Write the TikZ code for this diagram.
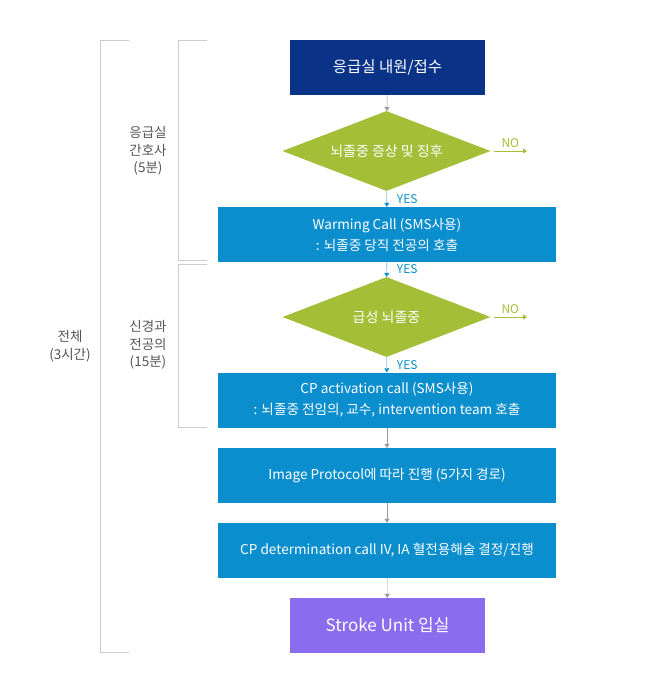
\documentclass[tikz,border=0pt]{standalone}
\usepackage{fontspec}
\setmainfont{Noto Sans CJK KR}
\usetikzlibrary{shapes.geometric,arrows.meta}
\definecolor{navybox}{HTML}{0A3286}
\definecolor{bluebox}{HTML}{0A8ECE}
\definecolor{greenbox}{HTML}{A4BE37}
\definecolor{purplebox}{HTML}{8A6CEE}
\definecolor{linegray}{HTML}{CCCCCC}
\definecolor{arrowgray}{HTML}{999999}
\definecolor{labelgray}{HTML}{555555}
\begin{document}
\begin{tikzpicture}[
		x=1pt, y=-1pt,
		every node/.style={inner sep=0pt, align=center},
		box/.style={rectangle, fill=bluebox, text=white, minimum width=338pt, minimum height=55pt, font=\fontsize{13.6}{21}\selectfont},
		endbox/.style={rectangle, text=white, minimum width=195pt, minimum height=55pt},
		decision/.style={diamond, aspect=2.6, fill=greenbox, text=white, minimum width=208pt, minimum height=80pt, font=\fontsize{14}{16}\selectfont},
		grayarrow/.style={draw=arrowgray, -{Triangle[width=5pt,length=4pt]}},
		yesarrow/.style={draw=bluebox, -{Triangle[width=5pt,length=4pt]}},
		noarrow/.style={draw=greenbox, -{Triangle[width=5pt,length=4pt]}},
		yeslabel/.style={text=bluebox, font=\fontsize{12}{12}\selectfont},
		nolabel/.style={text=greenbox, font=\fontsize{12}{12}\selectfont},
		sidelabel/.style={text=labelgray, font=\fontsize{13.5}{17.5}\selectfont}
	]
  \useasboundingbox (0,0) rectangle (654,693);
  % flow
  \node (arrive) [endbox, fill=navybox, font=\fontsize{15.5}{18}\selectfont] at (387.5, 67.5) {응급실 내원/접수};
  \node (symptom) [decision] at (386.5, 151) {뇌졸중 증상 및 징후};
  \node (warming) [box] at (387, 234.5) {Warming Call (SMS사용)\\: 뇌졸중 당직 전공의 호출};
  \node (acute) [decision] at (386.5, 317) {급성 뇌졸중};
  \node (activation) [box] at (387, 400) {CP activation call (SMS사용)\\: 뇌졸중 전임의, 교수, intervention team 호출};
  \node (protocol) [box] at (387, 475.5) {Image Protocol에 따라 진행 (5가지 경로)};
  \node (determination) [box] at (387, 550.5) {CP determination call IV, IA 혈전용해술 결정/진행};
  \node (unit) [endbox, fill=purplebox, font=\fontsize{17}{18}\selectfont] at (387.5, 625.5) {Stroke Unit 입실};
  \coordinate (no_1) at (527, 151);
  \coordinate (no_2) at (527, 317);
  \draw [grayarrow] (arrive) -- (symptom);
  \draw [yesarrow] (symptom) -- node [yeslabel, right=10pt] {YES} (warming);
  \draw [yesarrow] (warming) -- node [yeslabel, right=10pt] {YES} (acute);
  \draw [yesarrow] (acute) -- node [yeslabel, right=10pt] {YES} (activation);
  \draw [noarrow] (symptom.east) ++(3,0) -- node [nolabel, above=3pt] {NO} (no_1);
  \draw [noarrow] (acute.east) ++(3,0) -- node [nolabel, above=3pt] {NO} (no_2);
  \draw [grayarrow] (activation) -- (protocol);
  \draw [grayarrow] (protocol) -- (determination);
  \draw [grayarrow] (determination) -- (unit);
  % brackets
  \draw [linegray] (129, 40.5) -- (100.5, 40.5) -- (100.5, 652) -- (129, 652);
  \draw [linegray] (207, 40.5) -- (178.5, 40.5) -- (178.5, 260.5) -- (207, 260.5);
  \draw [linegray] (207, 264.5) -- (178.5, 264.5) -- (178.5, 427) -- (207, 427);
  \node (nurse) [sidelabel] at (148, 151) {응급실\\간호사\\(5분)};
  \node (resident) [sidelabel] at (148, 345) {신경과\\전공의\\(15분)};
  \node (total) [sidelabel] at (70, 346) {전체\\(3시간)};
\end{tikzpicture}
\end{document}
